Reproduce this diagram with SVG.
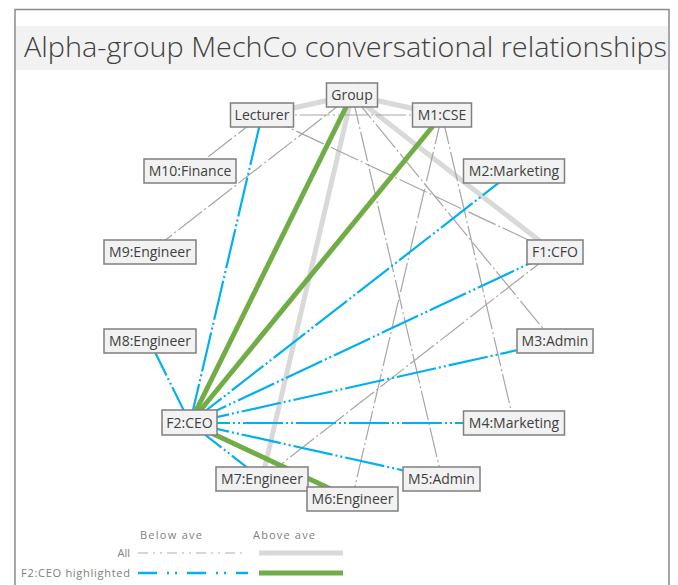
<svg xmlns="http://www.w3.org/2000/svg" width="678" height="585" viewBox="0 0 678 585">
<style>
.frame{fill:none;stroke:#8c8c8c;stroke-width:1.5}
.band{fill:#f2f2f2}
.title{font-family:"Open Sans","Segoe UI","Liberation Sans",sans-serif;font-weight:300;font-size:28px;fill:#404040}
.box{fill:#f2f2f2;stroke:#7f7f7f;stroke-width:1.5}
.lbl{font-family:"Open Sans","Liberation Sans",sans-serif;font-size:14px;fill:#404040;text-anchor:middle}
.leg{font-family:"Open Sans","Liberation Sans",sans-serif;font-size:11px;fill:#808080}
.gthick{stroke:#d9d9d9;stroke-width:5;fill:none}
.gthin{stroke:#a6a6a6;stroke-width:1.2;fill:none;stroke-dasharray:30 3 2 3}
.blue{stroke:#00b0f0;stroke-width:2.2;fill:none;stroke-dasharray:40 3 2 3 2 3}
.green{stroke:#70ad47;stroke-width:5;fill:none}
.lgthin{stroke:#b0b0b0;stroke-width:1.2;fill:none;stroke-dasharray:10 5 2 5 2 5}
.lblue{stroke:#00b0f0;stroke-width:2.5;fill:none;stroke-dasharray:19 10 2 6 2 10}
</style>
<rect x="0" y="0" width="678" height="585" fill="#ffffff"/>
<g id="frame">
<rect class="band" x="15" y="26" width="654" height="44"/>
<path class="frame" d="M15 585 V9.5 H669 V585"/>
<text class="title" x="24" y="57" textLength="643" lengthAdjust="spacingAndGlyphs">Alpha-group MechCo conversational relationships</text>
</g>
<g id="connectors">
<line class="gthick" x1="352" y1="95" x2="262" y2="115"/>
<line class="gthick" x1="352" y1="95" x2="442" y2="115"/>
<line class="gthick" x1="352" y1="95" x2="554" y2="252"/>
<line class="gthick" x1="352" y1="95" x2="262" y2="479"/>
<line class="gthin" x1="352" y1="95" x2="150" y2="252"/>
<line class="gthin" x1="352" y1="95" x2="554" y2="342"/>
<line class="gthin" x1="352" y1="95" x2="442" y2="479"/>
<line class="gthin" x1="262" y1="115" x2="190" y2="171"/>
<line class="gthin" x1="262" y1="115" x2="442" y2="115"/>
<line class="gthin" x1="262" y1="115" x2="554" y2="252"/>
<line class="gthin" x1="442" y1="115" x2="352" y2="499"/>
<line class="gthin" x1="442" y1="115" x2="514" y2="423"/>
<line class="gthin" x1="554" y1="252" x2="262" y2="479"/>
<line class="blue" x1="190" y1="423" x2="262" y2="115"/>
<line class="blue" x1="190" y1="423" x2="514" y2="171"/>
<line class="blue" x1="190" y1="423" x2="554" y2="252"/>
<line class="blue" x1="190" y1="423" x2="554" y2="342"/>
<line class="blue" x1="190" y1="423" x2="514" y2="423"/>
<line class="blue" x1="190" y1="423" x2="442" y2="479"/>
<line class="blue" x1="190" y1="423" x2="262" y2="479"/>
<line class="blue" x1="190" y1="423" x2="150" y2="342"/>
<line class="green" x1="190" y1="423" x2="352" y2="95"/>
<line class="green" x1="190" y1="423" x2="442" y2="115"/>
<line class="green" x1="190" y1="423" x2="352" y2="499"/>
</g>
<g id="n-group"><rect class="box" x="326.5" y="83" width="51" height="24"/><text class="lbl" x="352" y="100">Group</text></g>
<g id="n-lecturer"><rect class="box" x="230.5" y="103" width="63" height="24"/><text class="lbl" x="262" y="120">Lecturer</text></g>
<g id="n-m1"><rect class="box" x="412.5" y="103" width="59" height="24"/><text class="lbl" x="442" y="120">M1:CSE</text></g>
<g id="n-m10"><rect class="box" x="144" y="159" width="92" height="24"/><text class="lbl" x="190" y="176">M10:Finance</text></g>
<g id="n-m2"><rect class="box" x="463.5" y="159" width="101" height="24"/><text class="lbl" x="514" y="176">M2:Marketing</text></g>
<g id="n-m9"><rect class="box" x="104" y="240" width="92" height="24"/><text class="lbl" x="150" y="257">M9:Engineer</text></g>
<g id="n-f1"><rect class="box" x="527" y="240" width="56" height="24"/><text class="lbl" x="555" y="257">F1:CFO</text></g>
<g id="n-m8"><rect class="box" x="104" y="329" width="92" height="24"/><text class="lbl" x="150" y="346">M8:Engineer</text></g>
<g id="n-m3"><rect class="box" x="517" y="329" width="76" height="24"/><text class="lbl" x="555" y="346">M3:Admin</text></g>
<g id="n-f2"><rect class="box" x="162" y="410" width="55" height="25"/><text class="lbl" x="189.5" y="427.5">F2:CEO</text></g>
<g id="n-m4"><rect class="box" x="463.5" y="411" width="101" height="24"/><text class="lbl" x="514" y="428">M4:Marketing</text></g>
<g id="n-m7"><rect class="box" x="216" y="467" width="92" height="24"/><text class="lbl" x="262" y="484">M7:Engineer</text></g>
<g id="n-m5"><rect class="box" x="403" y="467" width="77" height="24"/><text class="lbl" x="441.5" y="484">M5:Admin</text></g>
<g id="n-m6"><rect class="box" x="307" y="487" width="91" height="24"/><text class="lbl" x="352.5" y="504">M6:Engineer</text></g>
<g id="legend">
<text class="leg" x="140" y="539" textLength="62">Below ave</text>
<text class="leg" x="253" y="539" textLength="62">Above ave</text>
<text class="leg" x="130" y="557" text-anchor="end">All</text>
<text class="leg" x="21" y="577" textLength="109">F2:CEO highlighted</text>
<line class="lgthin" x1="138" y1="553" x2="247" y2="553"/>
<line class="gthick" x1="259" y1="553" x2="343" y2="553"/>
<line class="lblue" x1="138" y1="573" x2="248" y2="573"/>
<line class="green" x1="259" y1="573" x2="343" y2="573"/>
</g>
</svg>
